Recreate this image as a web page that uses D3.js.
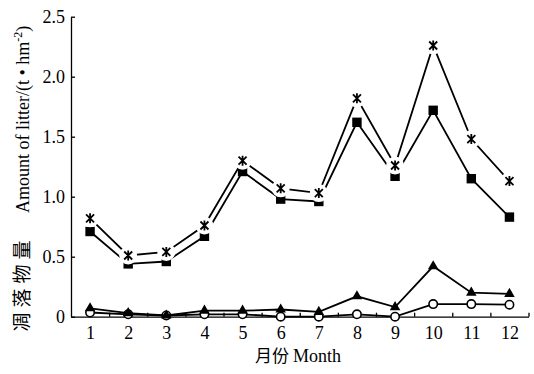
<!DOCTYPE html>
<html>
<head>
<meta charset="utf-8">
<script src="https://cdn.jsdelivr.net/npm/d3@7"></script>
<style>
  body { margin: 0; background: #fff; }
  svg { display: block; }
  .axis path, .axis line { stroke: #000; stroke-width: 1.3; }
  .axis text { font-family: "Liberation Serif", "Times New Roman", serif; font-size: 18px; fill: #000; }
</style>
</head>
<body>
<svg width="534" height="374"></svg>
<script>
const svg = d3.select('svg');

// Data
const months = [1, 2, 3, 4, 5, 6, 7, 8, 9, 10, 11, 12];
const asteriskSeries = [0.82, 0.51, 0.54, 0.76, 1.30, 1.07, 1.03, 1.82, 1.26, 2.26, 1.48, 1.13];
const squareSeries   = [0.71, 0.44, 0.46, 0.67, 1.21, 0.98, 0.96, 1.62, 1.17, 1.72, 1.15, 0.83];
const triangleSeries = [0.07, 0.03, 0.01, 0.05, 0.05, 0.06, 0.04, 0.17, 0.08, 0.42, 0.20, 0.19];
const diamondSeries  = [0.035, 0.02, 0.01, 0.02, 0.02, 0.0, 0.0, 0.02, 0.0, 0.105, 0.105, 0.10];
const yTicks = [0, 0.5, 1.0, 1.5, 2.0, 2.5];
const xBounds = [1.5, 2.5, 3.5, 4.5, 5.5, 6.5, 7.5, 8.5, 9.5, 10.5, 11.5, 12.5];
const yTitleCn = ['凋', '落', '物', '量'];

// Scales
const x = d3.scaleLinear().domain([0.5, 12.5]).range([71, 528.5]);
const y = d3.scaleLinear().domain([0, 2.5]).range([316.7, 16.7]);

const serif = '"Liberation Serif", "Times New Roman", serif';
const cjk = '"Noto Sans CJK SC", sans-serif';

// Axes
svg.append('g')
  .attr('class', 'axis')
  .attr('transform', `translate(${x(0.5)},0)`)
  .call(d3.axisLeft(y).tickValues(yTicks).tickSizeInner(-4).tickSizeOuter(0).tickPadding(6)
    .tickFormat(d => d === 0 ? '0' : d3.format('.1f')(d)));

// x axis: inner ticks at month boundaries, labels at months
svg.append('g')
  .attr('class', 'axis')
  .attr('transform', `translate(0,${y(0)})`)
  .call(d3.axisBottom(x).tickValues(xBounds).tickSizeInner(-4).tickSizeOuter(0).tickFormat(''));

const xLab = svg.append('g')
  .attr('class', 'axis')
  .attr('transform', `translate(0,${y(0)})`)
  .call(d3.axisBottom(x).tickValues(months).tickSize(0).tickPadding(10));
xLab.select('.domain').remove();

// Axis titles
const xTitle = svg.append('text')
  .attr('x', 298).attr('y', 362)
  .attr('text-anchor', 'middle')
  .style('fill', '#000')
  .style('font-family', serif).style('font-size', '18px');
xTitle.append('tspan').style('font-family', cjk).style('font-size', '17px').text('月份 ');
xTitle.append('tspan').text('Month');

// y title: Chinese part, one character at a time, then English part
const yTitle = svg.append('g').attr('transform', 'translate(29,0) rotate(-90)');
yTitle.selectAll('.cn').data(yTitleCn).enter().append('text')
  .attr('x', (d, i) => -322 + i * 24)
  .attr('text-anchor', 'middle')
  .style('fill', '#000')
  .style('font-family', cjk).style('font-size', '19px')
  .text(d => d);
const yEn = yTitle.append('text')
  .attr('x', -213)
  .attr('text-anchor', 'start')
  .style('fill', '#000')
  .style('font-family', serif).style('font-size', '18px');
yEn.append('tspan').text('Amount of litter/(t • hm');
yEn.append('tspan').attr('dy', -7).style('font-size', '12px').text('-2');
yEn.append('tspan').attr('dy', 7).text(')');

// Series
const line = d3.line().x((d, i) => x(months[i])).y(d => y(d));
const chart = svg.append('g');

function drawLine(values) {
  chart.append('path').datum(values)
    .attr('d', line)
    .attr('fill', 'none').attr('stroke', '#000').attr('stroke-width', 1.8);
}

// open diamonds (round looking)
drawLine(diamondSeries);
chart.selectAll('.dia').data(diamondSeries).enter().append('circle')
  .attr('cx', (d, i) => x(months[i])).attr('cy', d => y(d)).attr('r', 4.2)
  .attr('fill', '#fff').attr('stroke', '#000').attr('stroke-width', 1.6);

// filled triangles
drawLine(triangleSeries);
chart.selectAll('.tri').data(triangleSeries).enter().append('path')
  .attr('transform', (d, i) => `translate(${x(months[i])},${y(d)})`)
  .attr('d', d3.symbol(d3.symbolTriangle, 48))
  .attr('fill', '#000');

// filled squares
drawLine(squareSeries);
chart.selectAll('.sq').data(squareSeries).enter().append('rect')
  .attr('x', (d, i) => x(months[i]) - 4.7).attr('y', d => y(d) - 4.7)
  .attr('width', 9.4).attr('height', 9.4)
  .attr('fill', '#000');

// asterisks with white knockout
drawLine(asteriskSeries);
chart.selectAll('.ko').data(asteriskSeries).enter().append('circle')
  .attr('cx', (d, i) => x(months[i])).attr('cy', d => y(d)).attr('r', 9)
  .attr('fill', '#fff');
chart.selectAll('.ast').data(asteriskSeries).enter().append('path')
  .attr('transform', (d, i) => `translate(${x(months[i])},${y(d)})`)
  .attr('d', 'M-4,-4L4,4M4,-4L-4,4M0,-5V5')
  .attr('fill', 'none').attr('stroke', '#000').attr('stroke-width', 1.8);
</script>
</body>
</html>
